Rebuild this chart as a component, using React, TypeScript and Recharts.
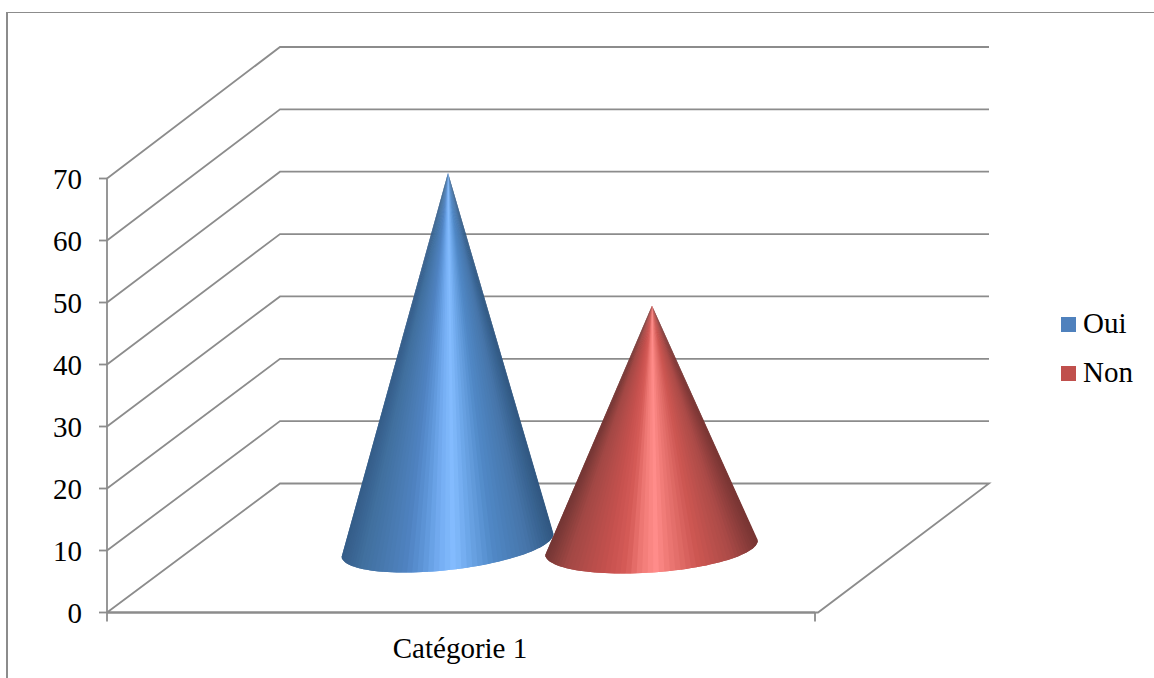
import { BarChart, Bar, XAxis, YAxis, CartesianGrid, Legend } from 'recharts'

const categories = ['Catégorie 1']
const ouiValues = [60]
const nonValues = [39]
const yTicks = [0, 10, 20, 30, 40, 50, 60, 70]

const chartData = categories.map((name, i) => ({ name, oui: ouiValues[i], non: nonValues[i] }))

const FONT = '"Liberation Serif", "Times New Roman", serif'
const LINE = '#8c8c8c'
const PLOT_LEFT = 107
const PLOT_TOP = 178.5
const PLOT_BOTTOM = 612.5
const PLOT_RIGHT = 815

// colour of the cone surface across its width (0 = left edge, 1 = right edge)
const blueShades: Array<[number, string]> = [
  [0, '#345c88'], [0.1, '#41709f'], [0.3, '#4f82c0'], [0.38, '#5d95d8'], [0.46, '#74adf2'], [0.53, '#84bcff'],
  [0.6, '#6ea8ea'], [0.72, '#5088c6'], [0.88, '#4675a9'], [1, '#305780'],
]
const redShades: Array<[number, string]> = [
  [0, '#733634'], [0.1, '#a24845'], [0.3, '#c8524f'], [0.38, '#d65c58'], [0.45, '#f07a76'], [0.52, '#ff8c8a'],
  [0.58, '#ef7a76'], [0.72, '#cd5752'], [0.88, '#aa4a47'], [1, '#773533'],
]

function mix(shades: Array<[number, string]>, u: number) {
  for (let i = 1; i < shades.length; i++) {
    const [u0, c0] = shades[i - 1]
    const [u1, c1] = shades[i]
    if (u <= u1) {
      const t = Math.max(0, (u - u0) / (u1 - u0))
      const ch = (c: string, s: number) => parseInt(c.slice(s, s + 2), 16)
      const part = (s: number) => Math.round(ch(c0, s) + (ch(c1, s) - ch(c0, s)) * t)
      return `rgb(${part(1)},${part(3)},${part(5)})`
    }
  }
  return shades[shades.length - 1][1]
}

// cone drawn out of the bar rectangle, pushed back into the 3D floor
function Cone(props: any) {
  const { x, y, width, height, shades, lift, tilt } = props
  const depthShift = 88
  const rx = width / 2
  const ry = 25
  const cx = x + rx + depthShift
  const cy = y + height - lift
  const apexY = cy - height
  const phi = (tilt * Math.PI) / 180
  const n = 60
  const pts = Array.from({ length: n + 1 }, (_, i) => {
    const a = (i / n) * Math.PI
    return {
      x: cx + rx * Math.cos(a) * Math.cos(phi) - ry * Math.sin(a) * Math.sin(phi),
      y: cy + rx * Math.cos(a) * Math.sin(phi) + ry * Math.sin(a) * Math.cos(phi),
    }
  })
  const apexX = cx + 0.5
  return (
    <g>
      {pts.slice(0, n).map((p, i) => {
        // each facet runs under the next one so no seams show
        const q = pts[i + 1]
        const r = pts[Math.min(i + 2, n)]
        const u = ((p.x + q.x) / 2 - (cx - rx)) / width
        return (
          <polygon
            key={i}
            points={`${apexX},${apexY} ${p.x},${p.y} ${q.x},${q.y} ${r.x},${r.y}`}
            fill={mix(shades, u)}
          />
        )
      })}
    </g>
  )
}

// wall and side lines for one value line
function GridLine(props: any) {
  const { y1 } = props
  const backX = 280
  const backEnd = 989
  const backY = y1 - 129 - (PLOT_BOTTOM - y1) * 0.0058
  const isFloor = Math.abs(y1 - PLOT_BOTTOM) < 0.5
  const points = isFloor
    ? `${PLOT_LEFT},${y1} ${backX},${backY} ${backEnd},${backY} 818,${y1} ${PLOT_LEFT},${y1}`
    : `${PLOT_LEFT},${y1} ${backX},${backY} ${backEnd},${backY}`
  return <polyline key={props.key} points={points} fill="none" stroke={LINE} strokeWidth={1.8} />
}

function CategoryTick(props: any) {
  const { x, y, payload } = props
  const half = (PLOT_RIGHT - PLOT_LEFT) / 2
  return (
    <g>
      <line x1={x - half} x2={x - half} y1={y - 8} y2={y + 1} stroke={LINE} strokeWidth={1.8} />
      <line x1={x + half} x2={x + half} y1={y - 8} y2={y + 1} stroke={LINE} strokeWidth={1.8} />
      <text x={x - 1} y={y + 37} textAnchor="middle" fill="#000" fontSize={29} fontFamily={FONT}>
        {payload.value}
      </text>
    </g>
  )
}

function LegendBox({ payload }: any) {
  return (
    <div>
      {(payload || []).map((item: any) => (
        <div key={item.value} style={{ height: 49, display: 'flex', alignItems: 'center', fontFamily: FONT, fontSize: 29, color: '#000' }}>
          <span style={{ width: 15, height: 15, marginTop: 1, background: item.color, marginRight: 7 }} />
          {item.value}
        </div>
      ))}
    </div>
  )
}

export default function App() {
  return (
    <div style={{ position: 'absolute', left: 0, top: 0, width: 1154, height: 678, overflow: 'hidden', background: '#fff' }}>
      <div style={{ position: 'absolute', left: 6, top: 12, width: 1148, height: 666, borderLeft: `2px solid ${LINE}`, borderTop: `1px solid ${LINE}`, boxSizing: 'border-box' }} />
      <div style={{ position: 'absolute', left: 0, top: 0 }}>
        <BarChart
          width={1154}
          height={678}
          data={chartData}
          barSize={213}
          barGap={-9}
          margin={{ top: PLOT_TOP, right: 1154 - PLOT_RIGHT, bottom: 0, left: 0 }}
        >
          <CartesianGrid vertical={false} horizontal={GridLine as any} />
          <XAxis dataKey="name" height={678 - PLOT_BOTTOM} axisLine={{ stroke: LINE, strokeWidth: 1.8 }} tickLine={false} tick={CategoryTick as any} interval={0} />
          <YAxis
            width={PLOT_LEFT}
            domain={[0, 70]}
            ticks={yTicks}
            interval={0}
            axisLine={{ stroke: LINE, strokeWidth: 1.8 }}
            tickLine={{ stroke: LINE, strokeWidth: 1.8 }}
            tickSize={8}
            tickMargin={17}
            tick={{ fill: '#000', fontSize: 29, fontFamily: FONT }}
          />
          <Legend
            layout="vertical"
            align="center"
            verticalAlign="middle"
            itemSorter={null as any}
            content={LegendBox as any}
            wrapperStyle={{ left: 1061, top: 299, width: 90 }}
          />
          <Bar dataKey="oui" name="Oui" fill="#4f81bd" isAnimationActive={false} shape={(p: any) => <Cone {...p} shades={blueShades} lift={67.5} tilt={-6.4} />} />
          <Bar dataKey="non" name="Non" fill="#c0504d" isAnimationActive={false} shape={(p: any) => <Cone {...p} shades={redShades} lift={65} tilt={-4} />} />
        </BarChart>
      </div>
    </div>
  )
}
